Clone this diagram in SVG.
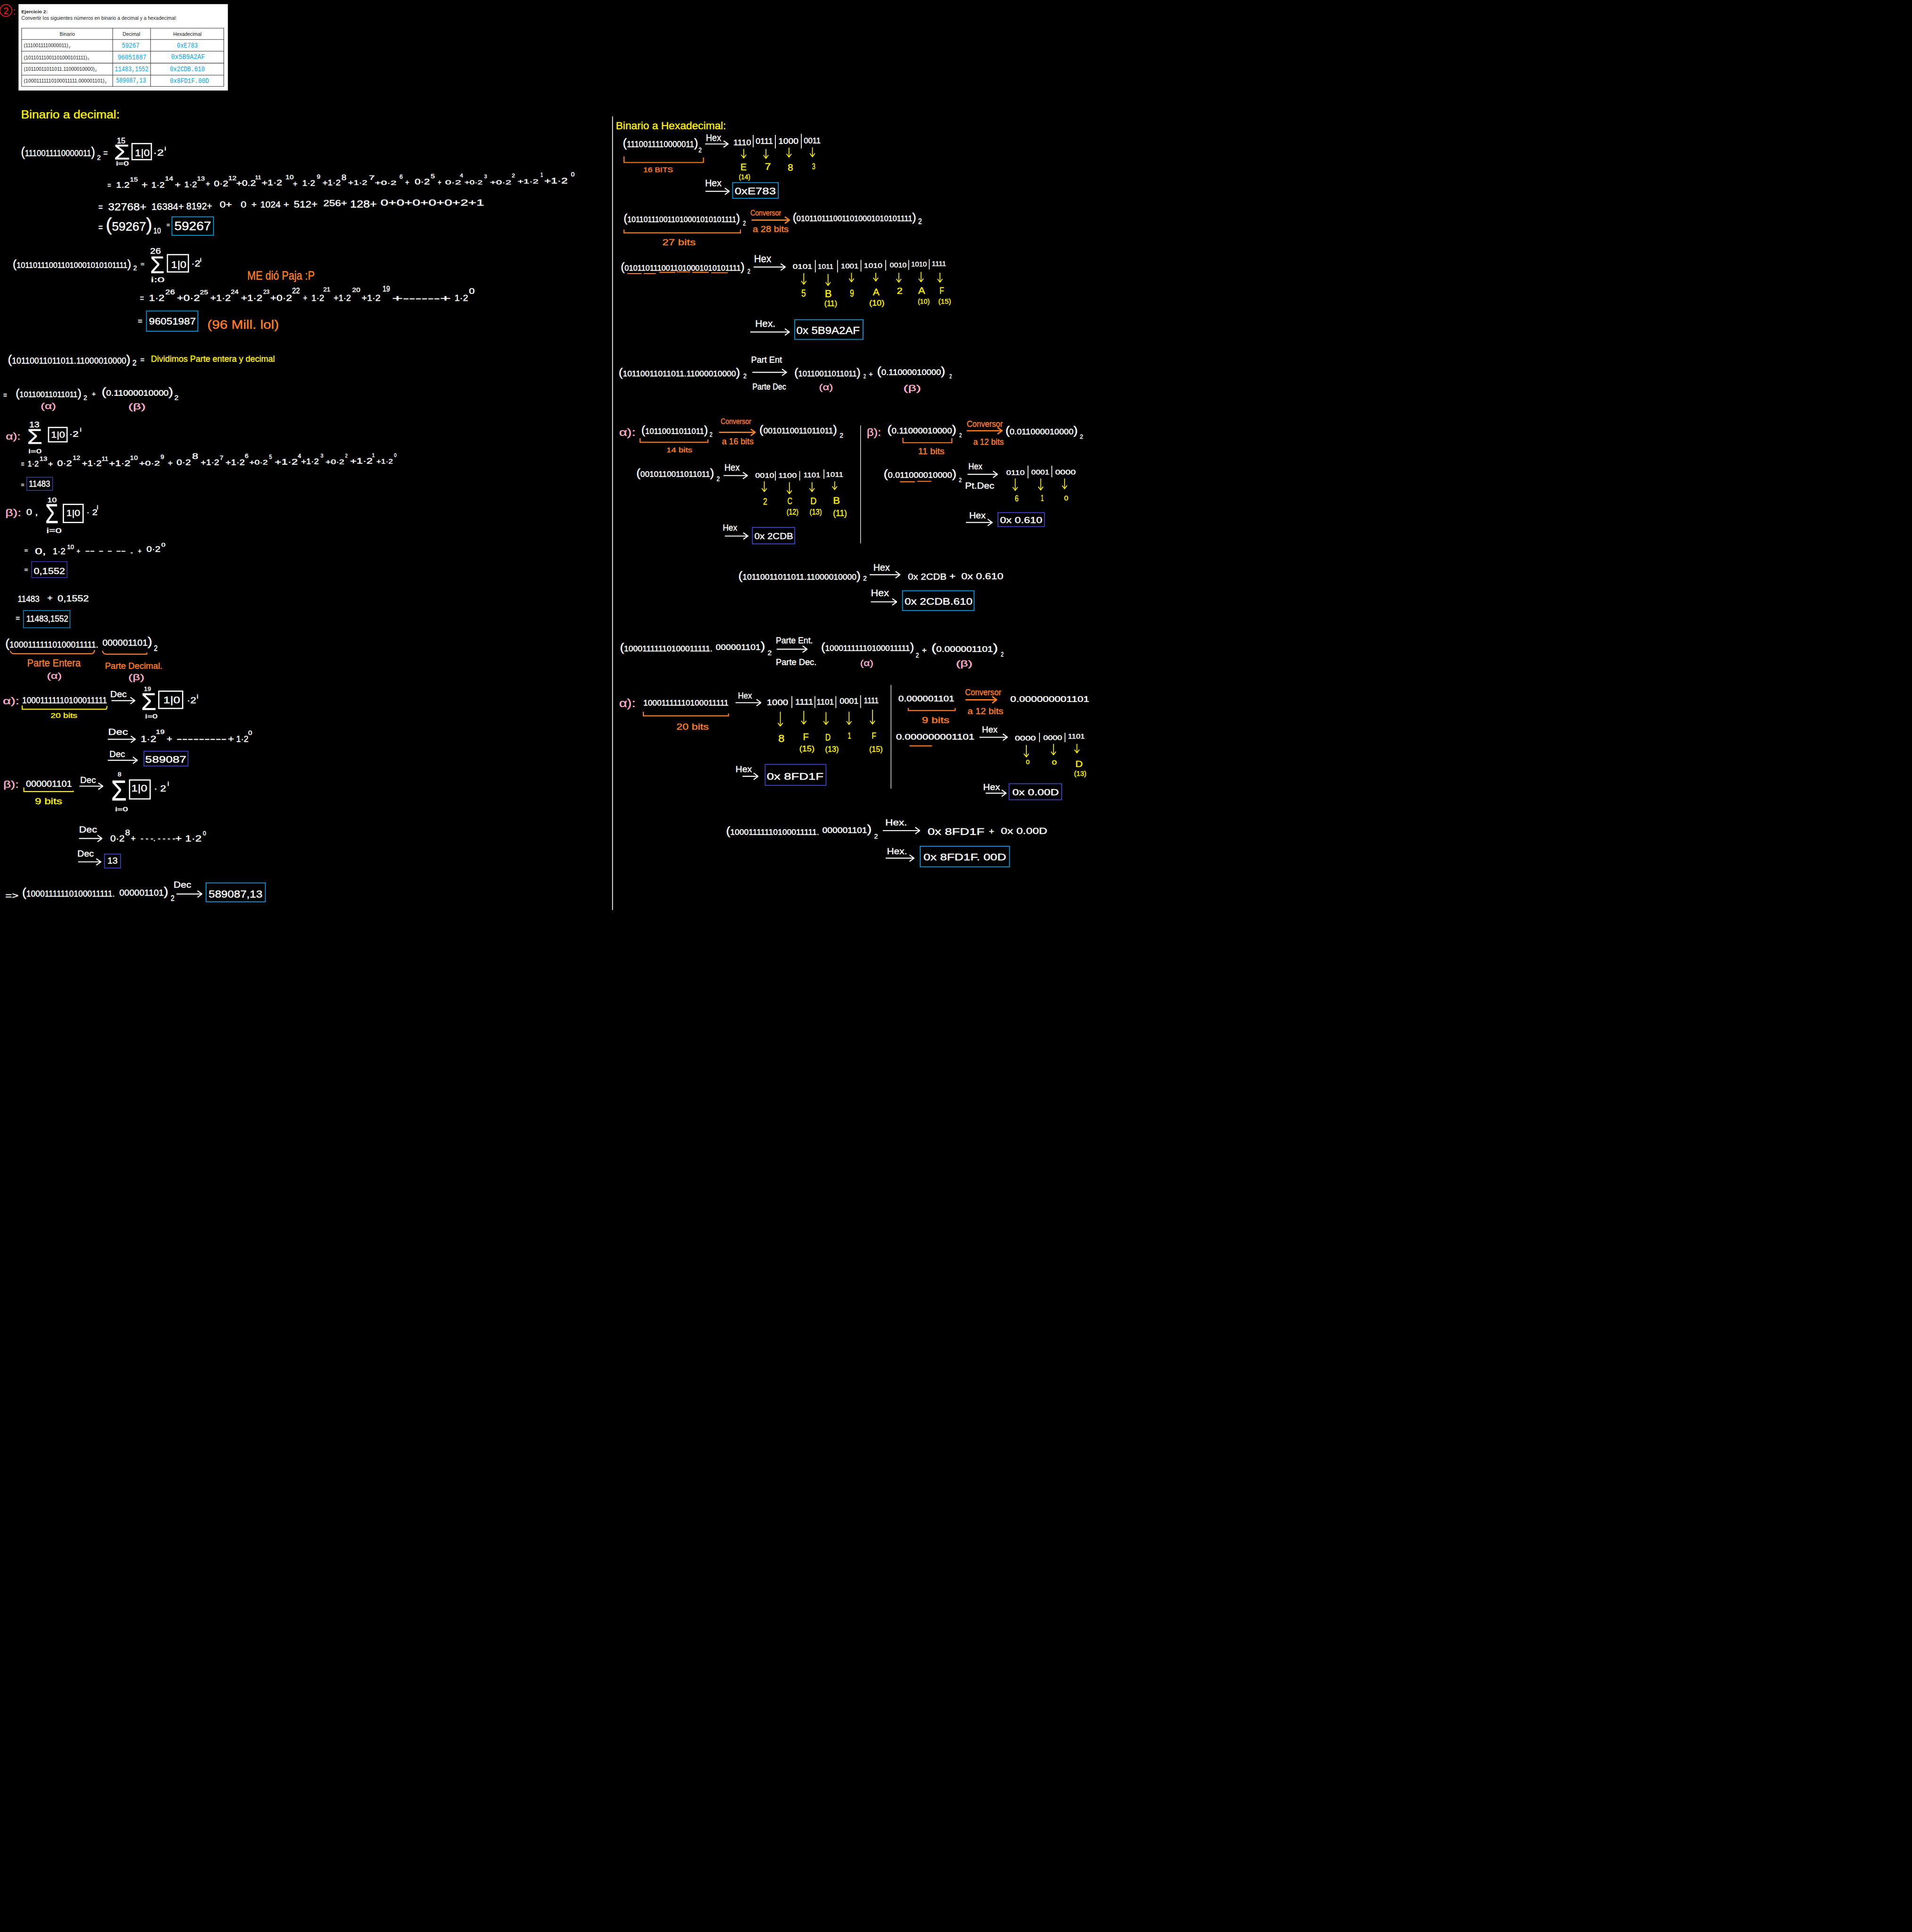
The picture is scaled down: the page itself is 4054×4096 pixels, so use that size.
<svg xmlns="http://www.w3.org/2000/svg" width="4054" height="4096" viewBox="0 0 4054 4096">
<style>
text{font-family:"Liberation Sans",Arial,sans-serif}
.w{fill:#fff;stroke:#fff;stroke-width:.5}
.y{fill:#fff200;stroke:#fff200;stroke-width:.5}
.o{fill:#ff7f27;stroke:#ff7f27;stroke-width:.5}
.p{fill:#ffaec9;stroke:#ffaec9;stroke-width:.5}
.r{fill:#ed1c24;stroke:#ed1c24;stroke-width:.5}
.k{fill:#222}
.c{fill:#00a2e8;font-family:"Liberation Mono",monospace;font-size:16px}
.pb{font-size:150%}
.s7{font-size:7px}.s11{font-size:11px}.s12{font-size:12px}.s13{font-size:13px}.s14{font-size:14px}.s15{font-size:15px}.s16{font-size:16px}.s17{font-size:17px}.s18{font-size:18px}.s20{font-size:20px}.s21{font-size:21px}.s22{font-size:22px}.s24{font-size:24px}.s26{font-size:26px}.s28{font-size:28px}.s30{font-size:30px}
.s50{font-size:50px}.s58{font-size:58px}.s65{font-size:65px}.s70{font-size:70px}
.bw{fill:none;stroke:#fff;stroke-width:3}
.bl{fill:none;stroke:#00a2e8;stroke-width:2}
.bd{fill:none;stroke:#3f48cc;stroke-width:2}
.tl{stroke:#333;stroke-width:1.2;fill:none}
.bar{stroke:#fff;stroke-width:2;fill:none}
.aw{stroke:#fff;stroke-width:2.5;fill:none;marker-end:url(#mw)}
.ao{stroke:#ff7f27;stroke-width:3;fill:none;marker-end:url(#mo)}
.ay{stroke:#fff200;stroke-width:2;fill:none;marker-end:url(#my)}
.bo{stroke:#ff7f27;stroke-width:2.5;fill:none}
.by{stroke:#fff200;stroke-width:2.5;fill:none}
</style>
<defs>
<marker id="mw" markerUnits="userSpaceOnUse" markerWidth="14" markerHeight="20" viewBox="0 0 14 20" refX="13" refY="10" orient="auto"><path d="M2 2L13 10L2 18" fill="none" stroke="#fff" stroke-width="2.5"/></marker>
<marker id="mo" markerUnits="userSpaceOnUse" markerWidth="14" markerHeight="20" viewBox="0 0 14 20" refX="13" refY="10" orient="auto"><path d="M2 2L13 10L2 18" fill="none" stroke="#ff7f27" stroke-width="3"/></marker>
<marker id="my" markerUnits="userSpaceOnUse" markerWidth="10" markerHeight="14" viewBox="0 0 10 14" refX="9" refY="7" orient="auto"><path d="M1 1L9 7L1 13" fill="none" stroke="#fff200" stroke-width="2"/></marker>
</defs>
<rect width="4054" height="4096" fill="#000"/>
<g transform="scale(0.8722)">

<g id="exercise">
<circle cx="14.5" cy="25.5" r="14.5" fill="none" stroke="#ed1c24" stroke-width="2"/>
<text class="r s24" x="9" y="34" textLength="12" lengthAdjust="spacingAndGlyphs">2</text>
<text class="r s24" x="32" y="36" textLength="6" lengthAdjust="spacingAndGlyphs">:</text>
<rect x="45" y="10" width="509" height="210" fill="#fff"/>
<text class="k s11" font-weight="bold" x="52" y="32" textLength="64" lengthAdjust="spacingAndGlyphs">Ejercicio 2:</text>
<text class="k s12" x="52" y="48" textLength="378" lengthAdjust="spacingAndGlyphs">Convertir los siguientes números en binario a decimal y a hexadecimal:</text>
<path class="tl" d="M52.500 68.500H544V210H52.500ZM52.500 96H544M52.500 124.500H544M52.500 153.500H544M52.500 182.500H544M274 68.500V210M366 68.500V210"/>
<text class="k s12" x="145" y="87" textLength="37" lengthAdjust="spacingAndGlyphs">Binario</text>
<text class="k s12" x="298" y="87" textLength="43" lengthAdjust="spacingAndGlyphs">Decimal</text>
<text class="k s12" x="421" y="87" textLength="69" lengthAdjust="spacingAndGlyphs">Hexadecimal</text>
<text class="k s12" x="58" y="115" textLength="108" lengthAdjust="spacingAndGlyphs">(1110011110000011)</text><text class="k s7" x="167" y="117">2</text>
<text class="k s12" x="58" y="144" textLength="154" lengthAdjust="spacingAndGlyphs">(10110111001101000101111)</text><text class="k s7" x="213" y="146">2</text>
<text class="k s12" x="58" y="172" textLength="172" lengthAdjust="spacingAndGlyphs">(10110011011011.11000010000)</text><text class="k s7" x="231" y="174">2</text>
<text class="k s12" x="58" y="201" textLength="196" lengthAdjust="spacingAndGlyphs">(10001111110100011111.000001101)</text><text class="k s7" x="255" y="203">2</text>
<text class="c" x="296" y="116" textLength="43" lengthAdjust="spacingAndGlyphs">59267</text>
<text class="c" x="286" y="145" textLength="70" lengthAdjust="spacingAndGlyphs">96051887</text>
<text class="c" x="279" y="173" textLength="82" lengthAdjust="spacingAndGlyphs">11483,1552</text>
<text class="c" x="282" y="201" textLength="73" lengthAdjust="spacingAndGlyphs">589087,13</text>
<text class="c" x="430" y="116" textLength="51" lengthAdjust="spacingAndGlyphs">0xE783</text>
<text class="c" x="416" y="143" textLength="82" lengthAdjust="spacingAndGlyphs">0x5B9A2AF</text>
<text class="c" x="413" y="173" textLength="85" lengthAdjust="spacingAndGlyphs">0x2CDB.610</text>
<text class="c" x="413" y="202" textLength="95" lengthAdjust="spacingAndGlyphs">0x8FD1F.00D</text>
</g>

<g id="bin-dec-1">
<text class="y s28" x="51" y="288" textLength="240" lengthAdjust="spacingAndGlyphs">Binario a decimal:</text>
<text class="w s21" x="51" y="380" textLength="180" lengthAdjust="spacingAndGlyphs"><tspan class="pb">(</tspan>1110011110000011<tspan class="pb">)</tspan></text>
<text class="w s16" x="236" y="389" textLength="9" lengthAdjust="spacingAndGlyphs">2</text>
<text class="w s20" x="251" y="378" textLength="11" lengthAdjust="spacingAndGlyphs">=</text>
<text class="w s18" x="284" y="349" textLength="21" lengthAdjust="spacingAndGlyphs">15</text>
<text class="w s50" x="277" y="388" textLength="39" lengthAdjust="spacingAndGlyphs">Σ</text>
<text class="w s14" x="282" y="403" textLength="31" lengthAdjust="spacingAndGlyphs">i=0</text>
<rect class="bw" x="321" y="349" width="47" height="39"/>
<text class="w s24" x="328" y="380" textLength="36" lengthAdjust="spacingAndGlyphs">1|0</text>
<text class="w s20" x="372" y="378" textLength="26" lengthAdjust="spacingAndGlyphs">·2</text>
<text class="w s13" x="400" y="366" textLength="4" lengthAdjust="spacingAndGlyphs">i</text>

<text class="w s18" x="261" y="456" textLength="9" lengthAdjust="spacingAndGlyphs">=</text>
<text class="w s18" x="282" y="456" textLength="33" lengthAdjust="spacingAndGlyphs">1.2</text><text class="w s15" x="316" y="441" textLength="19" lengthAdjust="spacingAndGlyphs">15</text>
<text class="w s24" x="344" y="457" textLength="15" lengthAdjust="spacingAndGlyphs">+</text><text class="w s18" x="368" y="456" textLength="32" lengthAdjust="spacingAndGlyphs">1·2</text><text class="w s15" x="401" y="439" textLength="20" lengthAdjust="spacingAndGlyphs">14</text>
<text class="w s18" x="425" y="455" textLength="14" lengthAdjust="spacingAndGlyphs">+</text><text class="w s18" x="448" y="455" textLength="31" lengthAdjust="spacingAndGlyphs">1·2</text><text class="w s15" x="479" y="439" textLength="19" lengthAdjust="spacingAndGlyphs">13</text>
<text class="w s18" x="500" y="453" textLength="11" lengthAdjust="spacingAndGlyphs">+</text><text class="w s18" x="520" y="453" textLength="35" lengthAdjust="spacingAndGlyphs">0·2</text><text class="w s15" x="555" y="438" textLength="20" lengthAdjust="spacingAndGlyphs">12</text>
<text class="w s18" x="574" y="452" textLength="48" lengthAdjust="spacingAndGlyphs">+0.2</text><text class="w s12" x="620" y="436" textLength="15" lengthAdjust="spacingAndGlyphs">11</text>
<text class="w s18" x="636" y="451" textLength="50" lengthAdjust="spacingAndGlyphs">+1·2</text><text class="w s15" x="694" y="436" textLength="20" lengthAdjust="spacingAndGlyphs">10</text>
<text class="w s18" x="712" y="453" textLength="11" lengthAdjust="spacingAndGlyphs">+</text><text class="w s18" x="735" y="452" textLength="31" lengthAdjust="spacingAndGlyphs">1·2</text><text class="w s15" x="770" y="435" textLength="9" lengthAdjust="spacingAndGlyphs">9</text>
<text class="w s18" x="784" y="451" textLength="44" lengthAdjust="spacingAndGlyphs">+1·2</text><text class="w s18" x="830" y="438" textLength="12" lengthAdjust="spacingAndGlyphs">8</text>
<text class="w s16" x="846" y="449" textLength="47" lengthAdjust="spacingAndGlyphs">+1·2</text><text class="w s15" x="897" y="437" textLength="14" lengthAdjust="spacingAndGlyphs">7</text>
<text class="w s14" x="911" y="449" textLength="53" lengthAdjust="spacingAndGlyphs">+0·2</text><text class="w s15" x="971" y="435" textLength="8" lengthAdjust="spacingAndGlyphs">6</text>
<text class="w s18" x="985" y="449" textLength="10" lengthAdjust="spacingAndGlyphs">+</text><text class="w s18" x="1008" y="448" textLength="37" lengthAdjust="spacingAndGlyphs">0·2</text><text class="w s14" x="1047" y="433" textLength="10" lengthAdjust="spacingAndGlyphs">5</text>
<text class="w s18" x="1064" y="449" textLength="9" lengthAdjust="spacingAndGlyphs">+</text><text class="w s15" x="1082" y="448" textLength="39" lengthAdjust="spacingAndGlyphs">0·2</text><text class="w s13" x="1118" y="431" textLength="8" lengthAdjust="spacingAndGlyphs">4</text>
<text class="w s15" x="1129" y="448" textLength="44" lengthAdjust="spacingAndGlyphs">+0·2</text><text class="w s13" x="1177" y="433" textLength="7" lengthAdjust="spacingAndGlyphs">3</text>
<text class="w s15" x="1191" y="448" textLength="52" lengthAdjust="spacingAndGlyphs">+0·2</text><text class="w s12" x="1244" y="431" textLength="8" lengthAdjust="spacingAndGlyphs">2</text>
<text class="w s15" x="1258" y="446" textLength="51" lengthAdjust="spacingAndGlyphs">+1·2</text><text class="w s14" x="1314" y="430" textLength="6" lengthAdjust="spacingAndGlyphs">1</text>
<text class="w s18" x="1323" y="446" textLength="57" lengthAdjust="spacingAndGlyphs">+1·2</text><text class="w s14" x="1388" y="429" textLength="9" lengthAdjust="spacingAndGlyphs">0</text>

<text class="w s24" x="239" y="511" textLength="11" lengthAdjust="spacingAndGlyphs">=</text>
<text class="w s26" x="263" y="511" textLength="93" lengthAdjust="spacingAndGlyphs">32768+</text>
<text class="w s24" x="368" y="510" textLength="79" lengthAdjust="spacingAndGlyphs">16384+</text>
<text class="w s24" x="453" y="509" textLength="63" lengthAdjust="spacingAndGlyphs">8192+</text>
<text class="w s22" x="534" y="505" textLength="30" lengthAdjust="spacingAndGlyphs">0+</text>
<text class="w s22" x="585" y="505" textLength="14" lengthAdjust="spacingAndGlyphs">0</text>
<text class="w s22" x="611" y="505" textLength="13" lengthAdjust="spacingAndGlyphs">+</text>
<text class="w s20" x="633" y="504" textLength="49" lengthAdjust="spacingAndGlyphs">1024</text>
<text class="w s22" x="689" y="505" textLength="14" lengthAdjust="spacingAndGlyphs">+</text>
<text class="w s24" x="714" y="504" textLength="58" lengthAdjust="spacingAndGlyphs">512+</text>
<text class="w s22" x="786" y="501" textLength="58" lengthAdjust="spacingAndGlyphs">256+</text>
<text class="w s26" x="851" y="504" textLength="65" lengthAdjust="spacingAndGlyphs">128+</text>
<text class="w s21" x="925" y="500" textLength="252" lengthAdjust="spacingAndGlyphs">0+0+0+0+0+2+1</text>

<text class="w s24" x="239" y="561" textLength="11" lengthAdjust="spacingAndGlyphs">=</text>
<text class="w s30" x="257" y="561" textLength="113" lengthAdjust="spacingAndGlyphs"><tspan class="pb">(</tspan>59267<tspan class="pb">)</tspan></text>
<text class="w s18" x="373" y="568" textLength="18" lengthAdjust="spacingAndGlyphs">10</text>
<text class="w s14" x="405" y="552" textLength="8" lengthAdjust="spacingAndGlyphs">=</text>
<rect class="bl" x="418" y="527" width="101" height="45"/>
<text class="w s30" x="424" y="560" textLength="89" lengthAdjust="spacingAndGlyphs">59267</text>
</g>

<g id="bin-dec-2">
<text class="w s18" x="31" y="651" textLength="288" lengthAdjust="spacingAndGlyphs"><tspan class="pb">(</tspan>101101110011010001010101111<tspan class="pb">)</tspan></text>
<text class="w s16" x="324" y="657" textLength="9" lengthAdjust="spacingAndGlyphs">2</text>
<text class="w s14" x="342" y="647" textLength="9" lengthAdjust="spacingAndGlyphs">=</text>
<text class="w s18" x="365" y="617" textLength="26" lengthAdjust="spacingAndGlyphs">26</text>
<text class="w s58" x="365" y="664" textLength="35" lengthAdjust="spacingAndGlyphs">Σ</text>
<text class="w s16" x="367" y="686" textLength="33" lengthAdjust="spacingAndGlyphs">i:0</text>
<rect class="bw" x="407" y="619" width="51" height="42"/>
<text class="w s24" x="416" y="651" textLength="37" lengthAdjust="spacingAndGlyphs">1|0</text>
<text class="w s20" x="465" y="648" textLength="22" lengthAdjust="spacingAndGlyphs">·2</text>
<text class="w s13" x="486" y="636" textLength="4" lengthAdjust="spacingAndGlyphs">i</text>
<text class="o s30" x="601" y="680" textLength="164" lengthAdjust="spacingAndGlyphs">ME dió Paja :P</text>

<text class="w s21" x="340" y="732" textLength="10" lengthAdjust="spacingAndGlyphs">=</text>
<text class="w s21" x="362" y="732" textLength="38" lengthAdjust="spacingAndGlyphs">1·2</text><text class="w s16" x="402" y="716" textLength="23" lengthAdjust="spacingAndGlyphs">26</text>
<text class="w s20" x="430" y="732" textLength="56" lengthAdjust="spacingAndGlyphs">+0·2</text><text class="w s15" x="486" y="716" textLength="20" lengthAdjust="spacingAndGlyphs">25</text>
<text class="w s20" x="511" y="732" textLength="50" lengthAdjust="spacingAndGlyphs">+1·2</text><text class="w s15" x="561" y="714" textLength="19" lengthAdjust="spacingAndGlyphs">24</text>
<text class="w s20" x="586" y="731" textLength="52" lengthAdjust="spacingAndGlyphs">+1·2</text><text class="w s15" x="640" y="714" textLength="15" lengthAdjust="spacingAndGlyphs">23</text>
<text class="w s20" x="657" y="731" textLength="53" lengthAdjust="spacingAndGlyphs">+0·2</text><text class="w s18" x="710" y="713" textLength="19" lengthAdjust="spacingAndGlyphs">22</text>
<text class="w s20" x="737" y="731" textLength="10" lengthAdjust="spacingAndGlyphs">+</text><text class="w s20" x="757" y="731" textLength="31" lengthAdjust="spacingAndGlyphs">1·2</text><text class="w s15" x="786" y="709" textLength="17" lengthAdjust="spacingAndGlyphs">21</text>
<text class="w s20" x="811" y="731" textLength="42" lengthAdjust="spacingAndGlyphs">+1·2</text><text class="w s15" x="856" y="710" textLength="20" lengthAdjust="spacingAndGlyphs">20</text>
<text class="w s20" x="879" y="731" textLength="46" lengthAdjust="spacingAndGlyphs">+1·2</text><text class="w s18" x="930" y="709" textLength="18" lengthAdjust="spacingAndGlyphs">19</text>
<text class="w s20" x="953" y="733" textLength="143" lengthAdjust="spacingAndGlyphs">+------+</text>
<text class="w s22" x="1105" y="731" textLength="33" lengthAdjust="spacingAndGlyphs">1·2</text><text class="w s18" x="1140" y="714" textLength="14" lengthAdjust="spacingAndGlyphs">0</text>

<text class="w s18" x="335" y="787" textLength="11" lengthAdjust="spacingAndGlyphs">=</text>
<rect class="bl" x="356" y="756" width="125" height="49"/>
<text class="w s24" x="362" y="789" textLength="114" lengthAdjust="spacingAndGlyphs">96051987</text>
<text class="o s30" x="504" y="799" textLength="174" lengthAdjust="spacingAndGlyphs">(96 Mill. lol)</text>
</g>

<g id="bin-dec-3">
<text class="w s20" x="19" y="884" textLength="298" lengthAdjust="spacingAndGlyphs"><tspan class="pb">(</tspan>10110011011011.11000010000<tspan class="pb">)</tspan></text>
<text class="w s18" x="322" y="888" textLength="10" lengthAdjust="spacingAndGlyphs">2</text>
<text class="w s18" x="341" y="881" textLength="10" lengthAdjust="spacingAndGlyphs">=</text>
<text class="y s22" x="367" y="879" textLength="301" lengthAdjust="spacingAndGlyphs">Dividimos Parte entera y decimal</text>
<text class="w s18" x="8" y="966" textLength="9" lengthAdjust="spacingAndGlyphs">=</text>
<text class="w s18" x="38" y="965" textLength="160" lengthAdjust="spacingAndGlyphs"><tspan class="pb">(</tspan>10110011011011<tspan class="pb">)</tspan></text>
<text class="w s16" x="203" y="972" textLength="9" lengthAdjust="spacingAndGlyphs">2</text>
<text class="w s16" x="223" y="963" textLength="10" lengthAdjust="spacingAndGlyphs">+</text>
<text class="w s18" x="247" y="962" textLength="174" lengthAdjust="spacingAndGlyphs"><tspan class="pb">(</tspan>0.11000010000<tspan class="pb">)</tspan></text>
<text class="w s16" x="424" y="972" textLength="10" lengthAdjust="spacingAndGlyphs">2</text>
<text class="p s20" x="99" y="994" textLength="37" lengthAdjust="spacingAndGlyphs">(α)</text>
<text class="p s20" x="312" y="995" textLength="42" lengthAdjust="spacingAndGlyphs">(β)</text>

<text class="p s24" x="14" y="1069" textLength="36" lengthAdjust="spacingAndGlyphs">α):</text>
<text class="w s18" x="71" y="1039" textLength="25" lengthAdjust="spacingAndGlyphs">13</text>
<text class="w s50" x="66" y="1079" textLength="37" lengthAdjust="spacingAndGlyphs">Σ</text>
<text class="w s15" x="69" y="1102" textLength="32" lengthAdjust="spacingAndGlyphs">i=0</text>
<rect class="bw" x="118" y="1039" width="45" height="35"/>
<text class="w s22" x="124" y="1064" textLength="34" lengthAdjust="spacingAndGlyphs">1|0</text>
<text class="w s18" x="168" y="1062" textLength="23" lengthAdjust="spacingAndGlyphs">·2</text>
<text class="w s12" x="194" y="1049" textLength="4" lengthAdjust="spacingAndGlyphs">i</text>

<text class="w s18" x="51" y="1134" textLength="8" lengthAdjust="spacingAndGlyphs">=</text>
<text class="w s18" x="67" y="1134" textLength="27" lengthAdjust="spacingAndGlyphs">1·2</text><text class="w s15" x="96" y="1120" textLength="19" lengthAdjust="spacingAndGlyphs">13</text>
<text class="w s18" x="117" y="1134" textLength="12" lengthAdjust="spacingAndGlyphs">+</text><text class="w s18" x="139" y="1133" textLength="36" lengthAdjust="spacingAndGlyphs">0·2</text><text class="w s15" x="177" y="1118" textLength="18" lengthAdjust="spacingAndGlyphs">12</text>
<text class="w s18" x="199" y="1133" textLength="48" lengthAdjust="spacingAndGlyphs">+1·2</text><text class="w s15" x="247" y="1120" textLength="16" lengthAdjust="spacingAndGlyphs">11</text>
<text class="w s18" x="265" y="1133" textLength="52" lengthAdjust="spacingAndGlyphs">+1·2</text><text class="w s15" x="316" y="1118" textLength="19" lengthAdjust="spacingAndGlyphs">10</text>
<text class="w s16" x="338" y="1132" textLength="51" lengthAdjust="spacingAndGlyphs">+0·2</text><text class="w s15" x="390" y="1116" textLength="9" lengthAdjust="spacingAndGlyphs">9</text>
<text class="w s18" x="408" y="1132" textLength="12" lengthAdjust="spacingAndGlyphs">+</text><text class="w s18" x="429" y="1131" textLength="35" lengthAdjust="spacingAndGlyphs">0·2</text><text class="w s18" x="467" y="1116" textLength="15" lengthAdjust="spacingAndGlyphs">8</text>
<text class="w s18" x="488" y="1131" textLength="45" lengthAdjust="spacingAndGlyphs">+1·2</text><text class="w s15" x="534" y="1118" textLength="9" lengthAdjust="spacingAndGlyphs">7</text>
<text class="w s18" x="548" y="1130" textLength="47" lengthAdjust="spacingAndGlyphs">+1·2</text><text class="w s15" x="595" y="1113" textLength="9" lengthAdjust="spacingAndGlyphs">6</text>
<text class="w s16" x="606" y="1129" textLength="45" lengthAdjust="spacingAndGlyphs">+0·2</text><text class="w s14" x="654" y="1116" textLength="7" lengthAdjust="spacingAndGlyphs">5</text>
<text class="w s18" x="668" y="1129" textLength="56" lengthAdjust="spacingAndGlyphs">+1·2</text><text class="w s14" x="724" y="1113" textLength="8" lengthAdjust="spacingAndGlyphs">4</text>
<text class="w s18" x="732" y="1128" textLength="43" lengthAdjust="spacingAndGlyphs">+1·2</text><text class="w s13" x="779" y="1112" textLength="7" lengthAdjust="spacingAndGlyphs">3</text>
<text class="w s16" x="791" y="1128" textLength="46" lengthAdjust="spacingAndGlyphs">+0·2</text><text class="w s13" x="839" y="1112" textLength="6" lengthAdjust="spacingAndGlyphs">2</text>
<text class="w s18" x="851" y="1127" textLength="55" lengthAdjust="spacingAndGlyphs">+1·2</text><text class="w s13" x="904" y="1111" textLength="7" lengthAdjust="spacingAndGlyphs">1</text>
<text class="w s16" x="915" y="1127" textLength="40" lengthAdjust="spacingAndGlyphs">+1·2</text><text class="w s12" x="958" y="1111" textLength="6" lengthAdjust="spacingAndGlyphs">0</text>

<text class="w s14" x="51" y="1183" textLength="8" lengthAdjust="spacingAndGlyphs">=</text>
<rect class="bd" x="65" y="1160" width="63" height="32" style="stroke-width:1.500"/>
<text class="w s20" x="70" y="1183" textLength="52" lengthAdjust="spacingAndGlyphs">11483</text>

<text class="p s24" x="13" y="1254" textLength="39" lengthAdjust="spacingAndGlyphs">β):</text>
<text class="w s20" x="64" y="1252" textLength="28" lengthAdjust="spacingAndGlyphs">0 ,</text>
<text class="w s16" x="115" y="1221" textLength="23" lengthAdjust="spacingAndGlyphs">10</text>
<text class="w s65" x="110" y="1272" textLength="32" lengthAdjust="spacingAndGlyphs">Σ</text>
<text class="w s16" x="113" y="1296" textLength="37" lengthAdjust="spacingAndGlyphs">i=0</text>
<rect class="bw" x="154" y="1226" width="48" height="44"/>
<text class="w s22" x="161" y="1254" textLength="34" lengthAdjust="spacingAndGlyphs">1|0</text>
<text class="w s18" x="210" y="1252" textLength="27" lengthAdjust="spacingAndGlyphs">· 2</text>
<text class="w s14" x="235" y="1238" textLength="4" lengthAdjust="spacingAndGlyphs">i</text>

<text class="w s15" x="59" y="1343" textLength="9" lengthAdjust="spacingAndGlyphs">=</text>
<text class="w s20" x="85" y="1347" textLength="27" lengthAdjust="spacingAndGlyphs">0,</text>
<text class="w s20" x="128" y="1347" textLength="31" lengthAdjust="spacingAndGlyphs">1·2</text><text class="w s14" x="163" y="1334" textLength="17" lengthAdjust="spacingAndGlyphs">10</text>
<text class="w s16" x="186" y="1345" textLength="9" lengthAdjust="spacingAndGlyphs">+</text>
<text class="w s16" x="207" y="1345" textLength="118" lengthAdjust="spacingAndGlyphs">-- - - -- .</text>
<text class="w s16" x="335" y="1345" textLength="9" lengthAdjust="spacingAndGlyphs">+</text>
<text class="w s18" x="356" y="1342" textLength="34" lengthAdjust="spacingAndGlyphs">0·2</text><text class="w s13" x="392" y="1329" textLength="10" lengthAdjust="spacingAndGlyphs">0</text>

<text class="w s15" x="59" y="1390" textLength="9" lengthAdjust="spacingAndGlyphs">=</text>
<rect class="bd" x="77" y="1365" width="86" height="39" style="stroke-width:1.500"/>
<text class="w s20" x="82" y="1395" textLength="76" lengthAdjust="spacingAndGlyphs">0,1552</text>
<text class="w s20" x="43" y="1463" textLength="53" lengthAdjust="spacingAndGlyphs">11483</text>
<text class="w s18" x="115" y="1460" textLength="13" lengthAdjust="spacingAndGlyphs">+</text>
<text class="w s20" x="140" y="1462" textLength="76" lengthAdjust="spacingAndGlyphs">0,1552</text>
<text class="w s18" x="38" y="1509" textLength="10" lengthAdjust="spacingAndGlyphs">=</text>
<rect class="bl" x="57" y="1484" width="113" height="42" style="stroke-width:1.500"/>
<text class="w s20" x="64" y="1511" textLength="102" lengthAdjust="spacingAndGlyphs">11483,1552</text>
</g>

<g id="bin-dec-4">
<text class="w s20" x="13" y="1574" textLength="226" lengthAdjust="spacingAndGlyphs"><tspan class="pb">(</tspan>10001111110100011111.</text>
<text class="w s20" x="249" y="1570" textLength="121" lengthAdjust="spacingAndGlyphs">000001101<tspan class="pb">)</tspan></text>
<text class="w s18" x="374" y="1582" textLength="9" lengthAdjust="spacingAndGlyphs">2</text>
<text class="o s26" x="66" y="1620" textLength="130" lengthAdjust="spacingAndGlyphs">Parte Entera</text>
<text class="o s22" x="255" y="1626" textLength="140" lengthAdjust="spacingAndGlyphs">Parte Decimal.</text>
<text class="p s22" x="114" y="1650" textLength="36" lengthAdjust="spacingAndGlyphs">(α)</text>
<text class="p s22" x="312" y="1653" textLength="39" lengthAdjust="spacingAndGlyphs">(β)</text>

<text class="p s24" x="7" y="1712" textLength="40" lengthAdjust="spacingAndGlyphs">α):</text>
<text class="w s20" x="54" y="1710" textLength="206" lengthAdjust="spacingAndGlyphs">10001111110100011111</text>
<text class="y s17" x="123" y="1745" textLength="65" lengthAdjust="spacingAndGlyphs">20 bits</text>
<text class="w s22" x="268" y="1694" textLength="40" lengthAdjust="spacingAndGlyphs">Dec</text>
<text class="w s15" x="350" y="1680" textLength="17" lengthAdjust="spacingAndGlyphs">19</text>
<text class="w s58" x="343" y="1725" textLength="37" lengthAdjust="spacingAndGlyphs">Σ</text>
<text class="w s15" x="353" y="1746" textLength="30" lengthAdjust="spacingAndGlyphs">i=0</text>
<rect class="bw" x="386" y="1680" width="58" height="42"/>
<text class="w s24" x="397" y="1710" textLength="41" lengthAdjust="spacingAndGlyphs">1|0</text>
<text class="w s22" x="454" y="1710" textLength="23" lengthAdjust="spacingAndGlyphs">·2</text>
<text class="w s14" x="478" y="1698" textLength="4" lengthAdjust="spacingAndGlyphs">i</text>

<text class="w s22" x="263" y="1786" textLength="48" lengthAdjust="spacingAndGlyphs">Dec</text>
<text class="w s22" x="342" y="1803" textLength="38" lengthAdjust="spacingAndGlyphs">1·2</text><text class="w s15" x="379" y="1784" textLength="21" lengthAdjust="spacingAndGlyphs">19</text>
<text class="w s22" x="405" y="1803" textLength="14" lengthAdjust="spacingAndGlyphs">+</text>
<text class="w s22" x="429" y="1803" textLength="122" lengthAdjust="spacingAndGlyphs">---------</text>
<text class="w s22" x="554" y="1803" textLength="15" lengthAdjust="spacingAndGlyphs">+</text>
<text class="w s22" x="574" y="1803" textLength="30" lengthAdjust="spacingAndGlyphs">1·2</text><text class="w s15" x="603" y="1786" textLength="10" lengthAdjust="spacingAndGlyphs">0</text>

<text class="w s22" x="266" y="1840" textLength="38" lengthAdjust="spacingAndGlyphs">Dec</text>
<rect class="bd" x="350" y="1826" width="107" height="36"/>
<text class="w s24" x="353" y="1854" textLength="100" lengthAdjust="spacingAndGlyphs">589087</text>

<text class="p s24" x="8" y="1915" textLength="38" lengthAdjust="spacingAndGlyphs">β):</text>
<text class="w s20" x="63" y="1912" textLength="112" lengthAdjust="spacingAndGlyphs">000001101</text>
<text class="y s22" x="85" y="1955" textLength="66" lengthAdjust="spacingAndGlyphs">9 bits</text>
<text class="w s22" x="195" y="1903" textLength="38" lengthAdjust="spacingAndGlyphs">Dec</text>
<text class="w s15" x="286" y="1887" textLength="9" lengthAdjust="spacingAndGlyphs">8</text>
<text class="w s70" x="270" y="1946" textLength="38" lengthAdjust="spacingAndGlyphs">Σ</text>
<text class="w s15" x="280" y="1972" textLength="31" lengthAdjust="spacingAndGlyphs">i=0</text>
<rect class="bw" x="315" y="1896" width="50" height="46"/>
<text class="w s24" x="319" y="1924" textLength="39" lengthAdjust="spacingAndGlyphs">1|0</text>
<text class="w s20" x="374" y="1924" textLength="30" lengthAdjust="spacingAndGlyphs">· 2</text>
<text class="w s14" x="407" y="1910" textLength="4" lengthAdjust="spacingAndGlyphs">i</text>

<text class="w s22" x="192" y="2024" textLength="44" lengthAdjust="spacingAndGlyphs">Dec</text>
<text class="w s22" x="268" y="2045" textLength="35" lengthAdjust="spacingAndGlyphs">0·2</text><text class="w s18" x="304" y="2031" textLength="12" lengthAdjust="spacingAndGlyphs">8</text>
<text class="w s20" x="318" y="2045" textLength="12" lengthAdjust="spacingAndGlyphs">+</text>
<text class="w s18" x="342" y="2044" textLength="84" lengthAdjust="spacingAndGlyphs">- - -. - - - -</text>
<text class="w s20" x="426" y="2045" textLength="16" lengthAdjust="spacingAndGlyphs">+</text>
<text class="w s22" x="450" y="2045" textLength="40" lengthAdjust="spacingAndGlyphs">1·2</text><text class="w s14" x="493" y="2031" textLength="8" lengthAdjust="spacingAndGlyphs">0</text>
<text class="w s20" x="188" y="2082" textLength="40" lengthAdjust="spacingAndGlyphs">Dec</text>
<rect class="bd" x="254" y="2076" width="39" height="34"/>
<text class="w s22" x="261" y="2099" textLength="25" lengthAdjust="spacingAndGlyphs">13</text>

<text class="w s22" x="13" y="2184" textLength="32" lengthAdjust="spacingAndGlyphs">=&gt;</text>
<text class="w s20" x="54" y="2180" textLength="225" lengthAdjust="spacingAndGlyphs"><tspan class="pb">(</tspan>10001111110100011111.</text>
<text class="w s20" x="290" y="2177" textLength="119" lengthAdjust="spacingAndGlyphs">000001101<tspan class="pb">)</tspan></text>
<text class="w s18" x="415" y="2190" textLength="9" lengthAdjust="spacingAndGlyphs">2</text>
<text class="w s22" x="422" y="2158" textLength="43" lengthAdjust="spacingAndGlyphs">Dec</text>
<rect class="bl" x="501" y="2146" width="144" height="46"/>
<text class="w s26" x="507" y="2182" textLength="131" lengthAdjust="spacingAndGlyphs">589087,13</text>
</g>

<g id="bin-hex-1">
<text class="y s26" x="1497" y="314" textLength="268" lengthAdjust="spacingAndGlyphs">Binario a Hexadecimal:</text>
<text class="w s20" x="1514" y="358" textLength="183" lengthAdjust="spacingAndGlyphs"><tspan class="pb">(</tspan>1110011110000011<tspan class="pb">)</tspan></text>
<text class="w s16" x="1698" y="370" textLength="8" lengthAdjust="spacingAndGlyphs">2</text>
<text class="w s24" x="1716" y="343" textLength="37" lengthAdjust="spacingAndGlyphs">Hex</text>
<text class="w s18" x="1783" y="353" textLength="43" lengthAdjust="spacingAndGlyphs">1110</text>
<text class="w s18" x="1837" y="350" textLength="42" lengthAdjust="spacingAndGlyphs">0111</text>
<text class="w s18" x="1892" y="350" textLength="49" lengthAdjust="spacingAndGlyphs">1000</text>
<text class="w s18" x="1954" y="348" textLength="41" lengthAdjust="spacingAndGlyphs">0011</text>
<text class="y s24" x="1800" y="414" textLength="15" lengthAdjust="spacingAndGlyphs">E</text>
<text class="y s24" x="1859" y="413" textLength="15" lengthAdjust="spacingAndGlyphs">7</text>
<text class="y s24" x="1915" y="415" textLength="13" lengthAdjust="spacingAndGlyphs">8</text>
<text class="y s20" x="1974" y="412" textLength="8" lengthAdjust="spacingAndGlyphs">3</text>
<text class="y s16" x="1796" y="436" textLength="28" lengthAdjust="spacingAndGlyphs">(14)</text>
<text class="o s16" x="1564" y="418" textLength="72" lengthAdjust="spacingAndGlyphs">16 BITS</text>
<text class="w s24" x="1714" y="453" textLength="40" lengthAdjust="spacingAndGlyphs">Hex</text>
<rect class="bl" x="1781" y="444" width="111" height="38"/>
<text class="w s24" x="1786" y="472" textLength="100" lengthAdjust="spacingAndGlyphs">0xE783</text>

<text class="w s18" x="1516" y="540" textLength="283" lengthAdjust="spacingAndGlyphs"><tspan class="pb">(</tspan>101101110011010001010101111<tspan class="pb">)</tspan></text>
<text class="w s16" x="1806" y="548" textLength="7" lengthAdjust="spacingAndGlyphs">2</text>
<text class="o s22" x="1610" y="596" textLength="81" lengthAdjust="spacingAndGlyphs">27 bits</text>
<text class="o s18" x="1824" y="524" textLength="75" lengthAdjust="spacingAndGlyphs">Conversor</text>
<text class="o s20" x="1830" y="564" textLength="87" lengthAdjust="spacingAndGlyphs">a 28 bits</text>
<text class="w s18" x="1927" y="538" textLength="300" lengthAdjust="spacingAndGlyphs"><tspan class="pb">(</tspan>0101101110011010001010101111<tspan class="pb">)</tspan></text>
<text class="w s18" x="2232" y="545" textLength="9" lengthAdjust="spacingAndGlyphs">2</text>

<text class="w s18" x="1509" y="658" textLength="301" lengthAdjust="spacingAndGlyphs"><tspan class="pb">(</tspan>0101101110011010001010101111<tspan class="pb">)</tspan></text>
<text class="w s16" x="1817" y="665" textLength="7" lengthAdjust="spacingAndGlyphs">2</text>
<text class="w s26" x="1833" y="637" textLength="42" lengthAdjust="spacingAndGlyphs">Hex</text>
<text class="w s16" x="1927" y="653" textLength="48" lengthAdjust="spacingAndGlyphs">0101</text>
<text class="w s16" x="1988" y="653" textLength="38" lengthAdjust="spacingAndGlyphs">1011</text>
<text class="w s16" x="2044" y="652" textLength="43" lengthAdjust="spacingAndGlyphs">1001</text>
<text class="w s16" x="2100" y="651" textLength="45" lengthAdjust="spacingAndGlyphs">1010</text>
<text class="w s16" x="2163" y="650" textLength="41" lengthAdjust="spacingAndGlyphs">0010</text>
<text class="w s16" x="2215" y="648" textLength="38" lengthAdjust="spacingAndGlyphs">1010</text>
<text class="w s16" x="2265" y="647" textLength="35" lengthAdjust="spacingAndGlyphs">1111</text>
<text class="y s26" x="1948" y="721" textLength="11" lengthAdjust="spacingAndGlyphs">5</text>
<text class="y s26" x="2005" y="722" textLength="17" lengthAdjust="spacingAndGlyphs">B</text>
<text class="y s26" x="2066" y="721" textLength="10" lengthAdjust="spacingAndGlyphs">9</text>
<text class="y s24" x="2122" y="718" textLength="16" lengthAdjust="spacingAndGlyphs">A</text>
<text class="y s20" x="2180" y="714" textLength="14" lengthAdjust="spacingAndGlyphs">2</text>
<text class="y s24" x="2232" y="714" textLength="17" lengthAdjust="spacingAndGlyphs">A</text>
<text class="y s24" x="2284" y="714" textLength="11" lengthAdjust="spacingAndGlyphs">F</text>
<text class="y s18" x="2004" y="744" textLength="31" lengthAdjust="spacingAndGlyphs">(11)</text>
<text class="y s18" x="2113" y="743" textLength="37" lengthAdjust="spacingAndGlyphs">(10)</text>
<text class="y s16" x="2231" y="738" textLength="29" lengthAdjust="spacingAndGlyphs">(10)</text>
<text class="y s16" x="2281" y="738" textLength="31" lengthAdjust="spacingAndGlyphs">(15)</text>
<text class="w s24" x="1836" y="795" textLength="49" lengthAdjust="spacingAndGlyphs">Hex.</text>
<rect class="bl" x="1932" y="777" width="166" height="48"/>
<text class="w s26" x="1936" y="812" textLength="154" lengthAdjust="spacingAndGlyphs">0x 5B9A2AF</text>

<text class="w s18" x="1504" y="915" textLength="295" lengthAdjust="spacingAndGlyphs"><tspan class="pb">(</tspan>10110011011011.11000010000<tspan class="pb">)</tspan></text>
<text class="w s16" x="1807" y="919" textLength="8" lengthAdjust="spacingAndGlyphs">2</text>
<text class="w s20" x="1826" y="882" textLength="75" lengthAdjust="spacingAndGlyphs">Part Ent</text>
<text class="w s20" x="1829" y="947" textLength="82" lengthAdjust="spacingAndGlyphs">Parte Dec</text>
<text class="w s18" x="1931" y="915" textLength="161" lengthAdjust="spacingAndGlyphs"><tspan class="pb">(</tspan>10110011011011<tspan class="pb">)</tspan></text>
<text class="w s14" x="2099" y="920" textLength="6" lengthAdjust="spacingAndGlyphs">2</text>
<text class="w s16" x="2112" y="915" textLength="10" lengthAdjust="spacingAndGlyphs">+</text>
<text class="w s18" x="2132" y="912" textLength="166" lengthAdjust="spacingAndGlyphs"><tspan class="pb">(</tspan>0.11000010000<tspan class="pb">)</tspan></text>
<text class="w s14" x="2308" y="920" textLength="6" lengthAdjust="spacingAndGlyphs">2</text>
<text class="p s22" x="1991" y="948" textLength="34" lengthAdjust="spacingAndGlyphs">(α)</text>
<text class="p s22" x="2196" y="951" textLength="43" lengthAdjust="spacingAndGlyphs">(β)</text>
</g>

<g id="bin-hex-2">
<text class="p s26" x="1505" y="1059" textLength="40" lengthAdjust="spacingAndGlyphs">α):</text>
<text class="w s18" x="1559" y="1055" textLength="162" lengthAdjust="spacingAndGlyphs"><tspan class="pb">(</tspan>10110011011011<tspan class="pb">)</tspan></text>
<text class="w s16" x="1725" y="1062" textLength="7" lengthAdjust="spacingAndGlyphs">2</text>
<text class="o s16" x="1620" y="1099" textLength="63" lengthAdjust="spacingAndGlyphs">14 bits</text>
<text class="o s18" x="1752" y="1031" textLength="74" lengthAdjust="spacingAndGlyphs">Conversor</text>
<text class="o s20" x="1755" y="1080" textLength="77" lengthAdjust="spacingAndGlyphs">a 16 bits</text>
<text class="w s18" x="1846" y="1054" textLength="189" lengthAdjust="spacingAndGlyphs"><tspan class="pb">(</tspan>0010110011011011<tspan class="pb">)</tspan></text>
<text class="w s16" x="2041" y="1064" textLength="9" lengthAdjust="spacingAndGlyphs">2</text>
<text class="w s18" x="1547" y="1159" textLength="189" lengthAdjust="spacingAndGlyphs"><tspan class="pb">(</tspan>0010110011011011<tspan class="pb">)</tspan></text>
<text class="w s16" x="1742" y="1170" textLength="8" lengthAdjust="spacingAndGlyphs">2</text>
<text class="w s24" x="1761" y="1144" textLength="37" lengthAdjust="spacingAndGlyphs">Hex</text>
<text class="w s16" x="1836" y="1162" textLength="46" lengthAdjust="spacingAndGlyphs">0010</text>
<text class="w s16" x="1892" y="1161" textLength="45" lengthAdjust="spacingAndGlyphs">1100</text>
<text class="w s16" x="1953" y="1160" textLength="41" lengthAdjust="spacingAndGlyphs">1101</text>
<text class="w s16" x="2008" y="1159" textLength="42" lengthAdjust="spacingAndGlyphs">1011</text>
<text class="y s24" x="1855" y="1227" textLength="10" lengthAdjust="spacingAndGlyphs">2</text>
<text class="y s24" x="1914" y="1226" textLength="12" lengthAdjust="spacingAndGlyphs">C</text>
<text class="y s24" x="1970" y="1226" textLength="15" lengthAdjust="spacingAndGlyphs">D</text>
<text class="y s24" x="2025" y="1225" textLength="17" lengthAdjust="spacingAndGlyphs">B</text>
<text class="y s18" x="1912" y="1251" textLength="29" lengthAdjust="spacingAndGlyphs">(12)</text>
<text class="y s18" x="1968" y="1251" textLength="30" lengthAdjust="spacingAndGlyphs">(13)</text>
<text class="y s20" x="2025" y="1254" textLength="34" lengthAdjust="spacingAndGlyphs">(11)</text>
<text class="w s22" x="1757" y="1290" textLength="35" lengthAdjust="spacingAndGlyphs">Hex</text>
<rect class="bd" x="1829" y="1282" width="103" height="40"/>
<text class="w s22" x="1834" y="1311" textLength="94" lengthAdjust="spacingAndGlyphs">0x 2CDB</text>

<text class="p s26" x="2107" y="1059" textLength="35" lengthAdjust="spacingAndGlyphs">β):</text>
<text class="w s18" x="2157" y="1054" textLength="168" lengthAdjust="spacingAndGlyphs"><tspan class="pb">(</tspan>0.11000010000<tspan class="pb">)</tspan></text>
<text class="w s14" x="2332" y="1063" textLength="6" lengthAdjust="spacingAndGlyphs">2</text>
<text class="o s20" x="2232" y="1104" textLength="64" lengthAdjust="spacingAndGlyphs">11 bits</text>
<text class="o s20" x="2350" y="1038" textLength="88" lengthAdjust="spacingAndGlyphs">Conversor</text>
<text class="o s20" x="2366" y="1081" textLength="74" lengthAdjust="spacingAndGlyphs">a 12 bits</text>
<text class="w s18" x="2444" y="1056" textLength="176" lengthAdjust="spacingAndGlyphs"><tspan class="pb">(</tspan>0.011000010000<tspan class="pb">)</tspan></text>
<text class="w s14" x="2625" y="1066" textLength="8" lengthAdjust="spacingAndGlyphs">2</text>
<text class="w s18" x="2148" y="1161" textLength="177" lengthAdjust="spacingAndGlyphs"><tspan class="pb">(</tspan>0.011000010000<tspan class="pb">)</tspan></text>
<text class="w s14" x="2331" y="1172" textLength="7" lengthAdjust="spacingAndGlyphs">2</text>
<text class="w s20" x="2354" y="1141" textLength="34" lengthAdjust="spacingAndGlyphs">Hex</text>
<text class="w s22" x="2346" y="1188" textLength="71" lengthAdjust="spacingAndGlyphs">Pt.Dec</text>
<text class="w s16" x="2446" y="1154" textLength="45" lengthAdjust="spacingAndGlyphs">0110</text>
<text class="w s16" x="2507" y="1153" textLength="44" lengthAdjust="spacingAndGlyphs">0001</text>
<text class="w s16" x="2565" y="1153" textLength="50" lengthAdjust="spacingAndGlyphs">0000</text>
<text class="y s20" x="2467" y="1219" textLength="9" lengthAdjust="spacingAndGlyphs">6</text>
<text class="y s20" x="2530" y="1218" textLength="7" lengthAdjust="spacingAndGlyphs">1</text>
<text class="y s16" x="2587" y="1216" textLength="10" lengthAdjust="spacingAndGlyphs">0</text>
<text class="w s22" x="2356" y="1260" textLength="40" lengthAdjust="spacingAndGlyphs">Hex</text>
<rect class="bd" x="2426" y="1246" width="113" height="34"/>
<text class="w s20" x="2431" y="1272" textLength="103" lengthAdjust="spacingAndGlyphs">0x 0.610</text>

<text class="w s18" x="1795" y="1409" textLength="297" lengthAdjust="spacingAndGlyphs"><tspan class="pb">(</tspan>10110011011011.11000010000<tspan class="pb">)</tspan></text>
<text class="w s16" x="2098" y="1411" textLength="9" lengthAdjust="spacingAndGlyphs">2</text>
<text class="w s24" x="2123" y="1387" textLength="40" lengthAdjust="spacingAndGlyphs">Hex</text>
<text class="w s22" x="2207" y="1409" textLength="94" lengthAdjust="spacingAndGlyphs">0x 2CDB</text>
<text class="w s20" x="2308" y="1408" textLength="15" lengthAdjust="spacingAndGlyphs">+</text>
<text class="w s22" x="2337" y="1408" textLength="102" lengthAdjust="spacingAndGlyphs">0x 0.610</text>
<text class="w s24" x="2117" y="1449" textLength="44" lengthAdjust="spacingAndGlyphs">Hex</text>
<rect class="bl" x="2194" y="1436" width="174" height="48"/>
<text class="w s24" x="2199" y="1470" textLength="165" lengthAdjust="spacingAndGlyphs">0x 2CDB.610</text>
</g>

<g id="bin-hex-3">
<text class="w s18" x="1507" y="1583" textLength="225" lengthAdjust="spacingAndGlyphs"><tspan class="pb">(</tspan>10001111110100011111.</text>
<text class="w s18" x="1740" y="1580" textLength="120" lengthAdjust="spacingAndGlyphs">000001101<tspan class="pb">)</tspan></text>
<text class="w s16" x="1866" y="1592" textLength="10" lengthAdjust="spacingAndGlyphs">2</text>
<text class="w s20" x="1886" y="1564" textLength="90" lengthAdjust="spacingAndGlyphs">Parte Ent.</text>
<text class="w s20" x="1886" y="1617" textLength="99" lengthAdjust="spacingAndGlyphs">Parte Dec.</text>
<text class="w s18" x="1996" y="1582" textLength="226" lengthAdjust="spacingAndGlyphs"><tspan class="pb">(</tspan>10001111110100011111<tspan class="pb">)</tspan></text>
<text class="w s16" x="2226" y="1598" textLength="8" lengthAdjust="spacingAndGlyphs">2</text>
<text class="w s18" x="2241" y="1587" textLength="12" lengthAdjust="spacingAndGlyphs">+</text>
<text class="w s18" x="2264" y="1585" textLength="162" lengthAdjust="spacingAndGlyphs"><tspan class="pb">(</tspan>0.000001101<tspan class="pb">)</tspan></text>
<text class="w s16" x="2433" y="1596" textLength="7" lengthAdjust="spacingAndGlyphs">2</text>
<text class="p s20" x="2091" y="1619" textLength="32" lengthAdjust="spacingAndGlyphs">(α)</text>
<text class="p s20" x="2324" y="1620" textLength="40" lengthAdjust="spacingAndGlyphs">(β)</text>

<text class="p s28" x="1505" y="1719" textLength="40" lengthAdjust="spacingAndGlyphs">α):</text>
<text class="w s18" x="1564" y="1715" textLength="207" lengthAdjust="spacingAndGlyphs">10001111110100011111</text>
<text class="o s22" x="1644" y="1774" textLength="79" lengthAdjust="spacingAndGlyphs">20 bits</text>
<text class="w s22" x="1794" y="1698" textLength="34" lengthAdjust="spacingAndGlyphs">Hex</text>
<text class="w s18" x="1864" y="1714" textLength="52" lengthAdjust="spacingAndGlyphs">1000</text>
<text class="w s18" x="1933" y="1713" textLength="44" lengthAdjust="spacingAndGlyphs">1111</text>
<text class="w s18" x="1985" y="1713" textLength="42" lengthAdjust="spacingAndGlyphs">1101</text>
<text class="w s18" x="2041" y="1711" textLength="46" lengthAdjust="spacingAndGlyphs">0001</text>
<text class="w s18" x="2100" y="1710" textLength="36" lengthAdjust="spacingAndGlyphs">1111</text>
<text class="y s26" x="1892" y="1803" textLength="15" lengthAdjust="spacingAndGlyphs">8</text>
<text class="y s24" x="1952" y="1799" textLength="14" lengthAdjust="spacingAndGlyphs">F</text>
<text class="y s24" x="2006" y="1800" textLength="13" lengthAdjust="spacingAndGlyphs">D</text>
<text class="y s20" x="2061" y="1796" textLength="8" lengthAdjust="spacingAndGlyphs">1</text>
<text class="y s20" x="2119" y="1796" textLength="11" lengthAdjust="spacingAndGlyphs">F</text>
<text class="y s18" x="1943" y="1826" textLength="37" lengthAdjust="spacingAndGlyphs">(15)</text>
<text class="y s18" x="2006" y="1828" textLength="33" lengthAdjust="spacingAndGlyphs">(13)</text>
<text class="y s18" x="2113" y="1828" textLength="33" lengthAdjust="spacingAndGlyphs">(15)</text>
<text class="w s22" x="1788" y="1877" textLength="40" lengthAdjust="spacingAndGlyphs">Hex</text>
<rect class="bd" x="1860" y="1858" width="148" height="51"/>
<text class="w s24" x="1864" y="1895" textLength="138" lengthAdjust="spacingAndGlyphs">0x 8FD1F</text>

<text class="w s18" x="2184" y="1705" textLength="136" lengthAdjust="spacingAndGlyphs">0.000001101</text>
<text class="o s22" x="2241" y="1758" textLength="67" lengthAdjust="spacingAndGlyphs">9 bits</text>
<text class="o s20" x="2346" y="1690" textLength="88" lengthAdjust="spacingAndGlyphs">Conversor</text>
<text class="o s20" x="2352" y="1736" textLength="87" lengthAdjust="spacingAndGlyphs">a 12 bits</text>
<text class="w s18" x="2456" y="1706" textLength="192" lengthAdjust="spacingAndGlyphs">0.000000001101</text>
<text class="w s18" x="2178" y="1798" textLength="191" lengthAdjust="spacingAndGlyphs">0.000000001101</text>
<text class="w s20" x="2387" y="1780" textLength="38" lengthAdjust="spacingAndGlyphs">Hex</text>
<text class="w s16" x="2467" y="1800" textLength="51" lengthAdjust="spacingAndGlyphs">0000</text>
<text class="w s16" x="2536" y="1799" textLength="46" lengthAdjust="spacingAndGlyphs">0000</text>
<text class="w s16" x="2596" y="1796" textLength="41" lengthAdjust="spacingAndGlyphs">1101</text>
<text class="y s14" x="2494" y="1857" textLength="9" lengthAdjust="spacingAndGlyphs">0</text>
<text class="y s14" x="2557" y="1859" textLength="12" lengthAdjust="spacingAndGlyphs">0</text>
<text class="y s20" x="2614" y="1864" textLength="18" lengthAdjust="spacingAndGlyphs">D</text>
<text class="y s16" x="2611" y="1886" textLength="30" lengthAdjust="spacingAndGlyphs">(13)</text>
<text class="w s20" x="2390" y="1920" textLength="41" lengthAdjust="spacingAndGlyphs">Hex</text>
<rect class="bd" x="2453" y="1905" width="128" height="39"/>
<text class="w s20" x="2461" y="1933" textLength="113" lengthAdjust="spacingAndGlyphs">0x 0.00D</text>

<text class="w s18" x="1765" y="2029" textLength="226" lengthAdjust="spacingAndGlyphs"><tspan class="pb">(</tspan>10001111110100011111.</text>
<text class="w s18" x="1999" y="2025" textLength="120" lengthAdjust="spacingAndGlyphs">000001101<tspan class="pb">)</tspan></text>
<text class="w s16" x="2125" y="2038" textLength="9" lengthAdjust="spacingAndGlyphs">2</text>
<text class="w s22" x="2152" y="2006" textLength="53" lengthAdjust="spacingAndGlyphs">Hex.</text>
<text class="w s24" x="2255" y="2029" textLength="138" lengthAdjust="spacingAndGlyphs">0x 8FD1F</text>
<text class="w s20" x="2404" y="2028" textLength="13" lengthAdjust="spacingAndGlyphs">+</text>
<text class="w s22" x="2433" y="2027" textLength="113" lengthAdjust="spacingAndGlyphs">0x 0.00D</text>
<text class="w s22" x="2156" y="2076" textLength="49" lengthAdjust="spacingAndGlyphs">Hex.</text>
<rect class="bl" x="2237" y="2057" width="217" height="50"/>
<text class="w s24" x="2245" y="2091" textLength="201" lengthAdjust="spacingAndGlyphs">0x 8FD1F. 00D</text>
</g>

<g id="connectors">
<path class="bar" d="M1489 283V2212"/>
<path d="M2092 1034V1321M2166 1665V1917" stroke="#fff" stroke-width="1.500" fill="none"/>
<path class="bar" d="M1831 328V358M1885 328V361M1948 325V361M1982 632V662M2036 632V662M2093 632V660M2153 632V658M2209 632V656M2259 630V655M1885 1145V1168M1944 1145V1168M2003 1141V1164M2499 1132V1163M2557 1132V1160M1925 1692V1721M1981 1692V1721M2032 1692V1721M2092 1690V1721M2527 1781V1804M2589 1781V1804"/>
<path class="aw" d="M271 1703H328"/><path class="aw" d="M262 1797H329"/><path class="aw" d="M262 1848H334"/>
<path class="aw" d="M193 1911H250"/><path class="aw" d="M192 2038H248"/><path class="aw" d="M190 2095H245"/><path class="aw" d="M429 2173H491"/>
<path class="aw" d="M1714 350H1770"/><path class="aw" d="M1715 465H1773"/><path class="aw" d="M1832 649H1909"/><path class="aw" d="M1824 807H1919"/><path class="aw" d="M1829 905H1912"/>
<path class="aw" d="M1759 1156H1817"/><path class="aw" d="M1762 1303H1818"/><path class="aw" d="M2352 1153H2425"/><path class="aw" d="M2348 1270H2412"/><path class="aw" d="M2114 1397H2188"/><path class="aw" d="M2117 1463H2180"/>
<path class="aw" d="M1888 1578H1962"/><path class="aw" d="M1788 1708H1850"/><path class="aw" d="M1805 1887H1843"/><path class="aw" d="M2381 1792H2449"/><path class="aw" d="M2396 1928H2446"/><path class="aw" d="M2146 2019H2236"/><path class="aw" d="M2153 2086H2222"/>
<path class="ao" d="M1827 535H1919"/><path class="ao" d="M1748 1051H1836"/><path class="ao" d="M2350 1047H2436"/><path class="ao" d="M2347 1701H2423"/>
<path class="ay" d="M1808 362V384"/><path class="ay" d="M1862 362V385"/><path class="ay" d="M1918 359V382"/><path class="ay" d="M1975 358V381"/>
<path class="ay" d="M1954 664V691"/><path class="ay" d="M2013 666V694"/><path class="ay" d="M2070 663V685"/><path class="ay" d="M2129 663V683"/><path class="ay" d="M2185 663V686"/><path class="ay" d="M2239 661V685"/><path class="ay" d="M2285 663V686"/>
<path class="ay" d="M1858 1170V1195"/><path class="ay" d="M1919 1172V1200"/><path class="ay" d="M1974 1172V1195"/><path class="ay" d="M2029 1170V1190"/><path class="ay" d="M2468 1163V1192"/><path class="ay" d="M2530 1163V1191"/><path class="ay" d="M2588 1163V1188"/>
<path class="ay" d="M1897 1730V1765"/><path class="ay" d="M1954 1728V1760"/><path class="ay" d="M2008 1731V1761"/><path class="ay" d="M2064 1730V1761"/><path class="ay" d="M2121 1725V1760"/>
<path class="ay" d="M2495 1811V1840"/><path class="ay" d="M2561 1808V1835"/><path class="ay" d="M2618 1808V1830"/>
<path class="bo" d="M25 1582Q27 1589 33 1589H222Q229 1589 230 1580"/>
<path class="bo" d="M249 1582Q251 1590 257 1590H357V1586"/>
<path class="by" d="M54 1715V1724H258Q260 1722 260 1716"/>
<path class="by" d="M58 1914V1924H178V1922"/>
<path class="bo" d="M1517 380V395H1710V383"/>
<path class="bo" d="M1517 558V566H1800V558"/>
<path class="bo" d="M1525 665H1560M1565 665H1594M1603 662H1642M1645 661H1678M1683 662H1723M1729 663H1769"/>
<path class="bo" d="M1556 1065V1075H1721V1068"/>
<path class="bo" d="M2195 1064V1076H2314V1065"/>
<path class="bo" d="M2188 1171H2224M2230 1170H2264"/>
<path class="bo" d="M1564 1730V1740H1771V1734"/>
<path class="bo" d="M2208 1721V1727H2322V1721"/>
<path class="bo" d="M2211 1813H2266"/>
</g>
</g>
</svg>
